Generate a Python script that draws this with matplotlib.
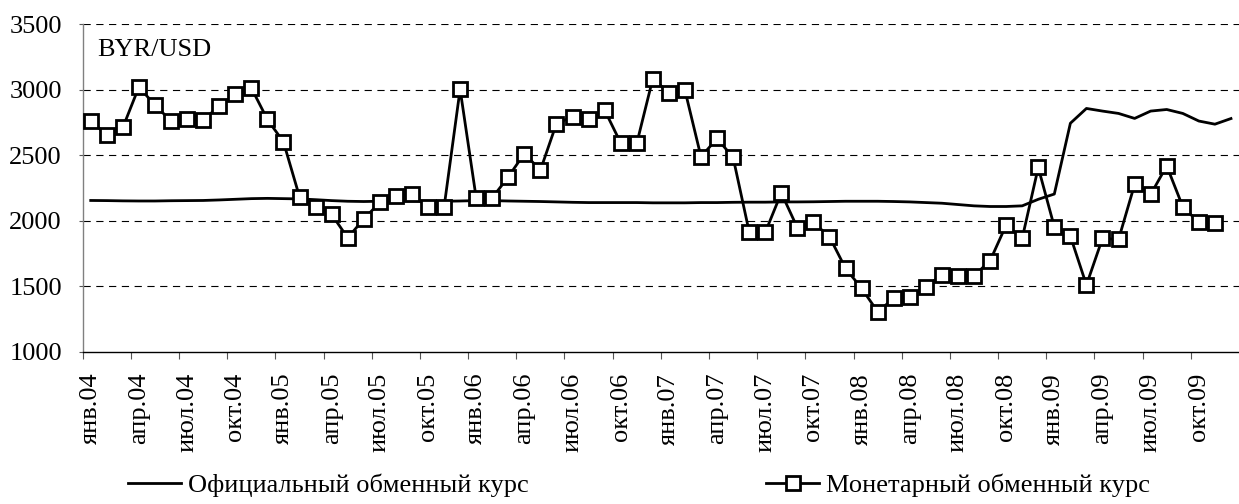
import matplotlib
matplotlib.use("Agg")
import matplotlib.pyplot as plt
from matplotlib.lines import Line2D
from matplotlib.ticker import FixedLocator

plt.rcParams['font.family'] = ['Liberation Serif', 'DejaVu Serif']

months = ['янв', 'фев', 'мар', 'апр', 'май', 'июн', 'июл', 'авг', 'сен', 'окт', 'ноя', 'дек']
years = ['04', '05', '06', '07', '08', '09']
categories = [f"{m}.{y}" for y in years for m in months]

official = [
    2156, 2155, 2153, 2152, 2152, 2154, 2155, 2156, 2160, 2165, 2170, 2172,
    2170, 2168, 2162, 2155, 2150, 2148, 2150, 2152, 2153, 2150, 2150, 2152,
    2155, 2155, 2152, 2150, 2148, 2145, 2142, 2140, 2140, 2140, 2140, 2138,
    2138, 2138, 2140, 2140, 2142, 2143, 2143, 2145, 2145, 2146, 2148, 2150,
    2150, 2150, 2148, 2145, 2140, 2135, 2125, 2115, 2110, 2110, 2115, 2165,
    2205, 2745, 2858, 2838, 2820, 2782, 2838, 2850, 2820, 2762, 2738, 2781,
]

monetary = [
    2765, 2654, 2713, 3022, 2883, 2763, 2774, 2768, 2877, 2966, 3015, 2774,
    2603, 2184, 2108, 2050, 1871, 2014, 2141, 2189, 2202, 2103, 2103, 3005,
    2176, 2176, 2336, 2514, 2387, 2743, 2794, 2781, 2845, 2595, 2591, 3086,
    2977, 2997, 2489, 2629, 2484, 1917, 1912, 2214, 1948, 1988, 1879, 1638,
    1486, 1307, 1409, 1417, 1498, 1587, 1582, 1582, 1696, 1968, 1867, 2408,
    1955, 1884, 1511, 1867, 1859, 2278, 2202, 2420, 2108, 1988, 1985,
]

label_official = 'Официальный обменный курс'
label_monetary = 'Монетарный обменный курс'
unit_label = 'BYR/USD'

FS = 19

W, H = 1239, 504
fig = plt.figure(figsize=(W / 100, H / 100), dpi=100)
ax = fig.add_axes([82.7 / W, 1 - 352 / H, 1 - 82.7 / W, (352 - 24.3) / H])

x_off = list(range(len(official)))
x_mon = list(range(len(monetary)))

ax.plot(x_off, official, color='black', lw=2.0, zorder=3)
ax.plot(x_mon, monetary, color='black', lw=2.0, marker='s', markersize=9.5,
        markerfacecolor='white', markeredgecolor='black', markeredgewidth=2.0,
        zorder=4)

ax.set_xlim(-0.5, 71.5)
ax.set_ylim(1000, 3500)
ax.set_yticks([1000, 1500, 2000, 2500, 3000, 3500])

for v in [1500, 2000, 2500, 3000, 3500]:
    ax.axhline(v, color='black', lw=0.8, dashes=(6.5, 5), zorder=1)

# x ticks: marks between categories, labels at category centres
ax.xaxis.set_major_locator(FixedLocator([i - 0.5 for i in range(0, 72, 3)]))
ax.xaxis.set_major_formatter(plt.NullFormatter())
ax.xaxis.set_minor_locator(FixedLocator(list(range(0, 72, 3))))
ax.set_xticklabels([categories[i] for i in range(0, 72, 3)], minor=True,
                   rotation=90, fontsize=FS)
ax.tick_params(axis='x', which='major', direction='out', length=5, width=0.8, color='#555555')
ax.tick_params(axis='x', which='minor', length=0, pad=15)
ax.tick_params(axis='y', direction='out', length=3, width=0.8, color='#555555',
               labelsize=FS, pad=12)

for s in ['top', 'right']:
    ax.spines[s].set_visible(False)
ax.spines['left'].set_color('#808080')
ax.spines['left'].set_linewidth(1.0)
ax.spines['bottom'].set_color('black')
ax.spines['bottom'].set_linewidth(1.0)

fig.text(97 / W, 1 - 56 / H, unit_label, fontsize=FS, va='baseline', ha='left')

h1 = Line2D([], [], color='black', lw=2.0)
h2 = Line2D([], [], color='black', lw=2.0, marker='s', markersize=9.5,
            markerfacecolor='white', markeredgecolor='black', markeredgewidth=2.0)
fig.legend([h1, h2], [label_official, label_monetary], loc='center',
           bbox_to_anchor=(639 / W, 19 / H), ncol=2, frameon=False,
           fontsize=FS, handlelength=2.0, handletextpad=0.27,
           columnspacing=9.0, borderpad=0, borderaxespad=0)

fig.savefig('out.png', dpi=100)
